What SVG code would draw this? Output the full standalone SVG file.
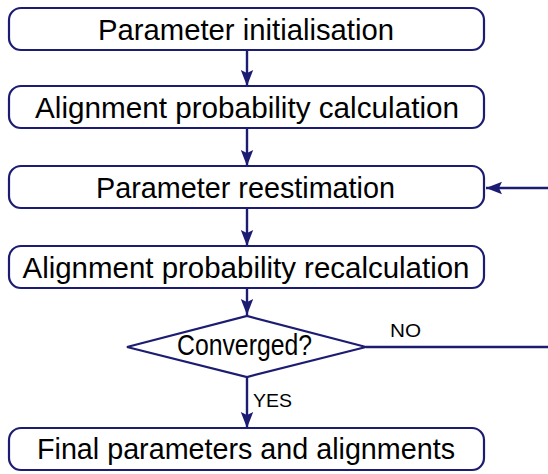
<svg xmlns="http://www.w3.org/2000/svg" width="548" height="474" viewBox="0 0 548 474">
<style>
.box{fill:#fff;stroke:#1c1c72;stroke-width:2.2}
.t{font-family:"Liberation Sans","DejaVu Sans",sans-serif;font-size:29px;fill:#000;text-anchor:middle}
.s{font-family:"Liberation Sans","DejaVu Sans",sans-serif;font-size:18px;fill:#000}
.c{fill:none;stroke:#1c1c72;stroke-width:2.4}
</style>
<defs>
<marker id="ah" markerUnits="userSpaceOnUse" markerWidth="18" markerHeight="14" refX="16" refY="7" orient="auto">
<path d="M0,0.8 L16,7 L0,13.2 L3,7 z" fill="#1c1c72"/>
</marker>
</defs>
<rect width="548" height="474" fill="#fff"/>
<g id="connectors">
<line class="c" x1="247" y1="50" x2="247" y2="86" marker-end="url(#ah)"/>
<line class="c" x1="247" y1="128" x2="247" y2="166" marker-end="url(#ah)"/>
<line class="c" x1="247" y1="208" x2="247" y2="246" marker-end="url(#ah)"/>
<line class="c" x1="247" y1="288" x2="247" y2="315" marker-end="url(#ah)"/>
<line class="c" x1="247" y1="377" x2="247" y2="428" marker-end="url(#ah)"/>
<line class="c" x1="366" y1="347" x2="548" y2="347"/>
<line class="c" x1="548" y1="188" x2="486" y2="188" marker-end="url(#ah)"/>
<text class="s" x="390" y="337" textLength="31" lengthAdjust="spacingAndGlyphs">NO</text>
<text class="s" x="253" y="407" textLength="39" lengthAdjust="spacingAndGlyphs">YES</text>
</g>
<g id="n1">
<rect class="box" x="9" y="8" width="475" height="42" rx="12"/>
<text class="t" x="246" y="40" textLength="296" lengthAdjust="spacingAndGlyphs">Parameter initialisation</text>
</g>
<g id="n2">
<rect class="box" x="9" y="86" width="475" height="42" rx="12"/>
<text class="t" x="247" y="118" textLength="424" lengthAdjust="spacingAndGlyphs">Alignment probability calculation</text>
</g>
<g id="n3">
<rect class="box" x="9" y="166" width="475" height="42" rx="12"/>
<text class="t" x="245.5" y="198" textLength="299" lengthAdjust="spacingAndGlyphs">Parameter reestimation</text>
</g>
<g id="n4">
<rect class="box" x="9" y="246" width="475" height="42" rx="12"/>
<text class="t" x="246" y="278" textLength="447" lengthAdjust="spacingAndGlyphs">Alignment probability recalculation</text>
</g>
<g id="n5">
<polygon class="box" points="127,347 247,316 366,347 247,377"/>
<text class="t" x="244.5" y="355" textLength="135" lengthAdjust="spacingAndGlyphs">Converged?</text>
</g>
<g id="n6">
<rect class="box" x="9" y="428" width="475" height="42" rx="12"/>
<text class="t" x="246" y="459" textLength="418" lengthAdjust="spacingAndGlyphs">Final parameters and alignments</text>
</g>
</svg>
